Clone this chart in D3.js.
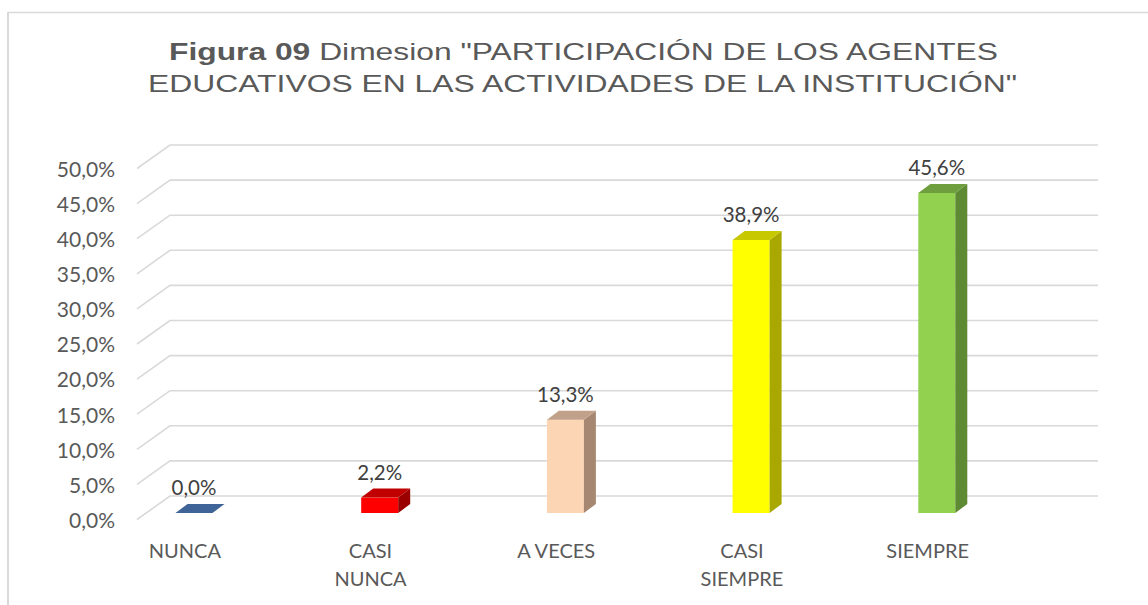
<!DOCTYPE html>
<html>
<head>
<meta charset="utf-8">
<script src="https://cdn.jsdelivr.net/npm/d3@7"></script>
<style>
html,body{margin:0;padding:0;background:#fff;}
svg{display:block;}
</style>
</head>
<body>
<script>
const categories = [["NUNCA"], ["CASI","NUNCA"], ["A VECES"], ["CASI","SIEMPRE"], ["SIEMPRE"]];
const catKeys = ["NUNCA","CASI NUNCA","A VECES","CASI SIEMPRE","SIEMPRE"];
const values = [0.0, 2.2, 13.3, 38.9, 45.6];
const valueLabels = ["0,0%","2,2%","13,3%","38,9%","45,6%"];
const yTicks = [0,5,10,15,20,25,30,35,40,45,50];
const tickLabels = ["0,0%","5,0%","10,0%","15,0%","20,0%","25,0%","30,0%","35,0%","40,0%","45,0%","50,0%"];
const frontColors = ["#44679b","#ff0000","#fcd5b5","#ffff00","#92d050"];
const topColors   = ["#3f6598","#c00000","#c2a18a","#c8c800","#6f9e3e"];
const sideColors  = ["#2f4f7a","#9a0000","#a68872","#a8a800","#5e8a33"];
const titleLine1Bold = "Figura 09";
const titleLine1Rest = " Dimesion \"PARTICIPACIÓN DE LOS AGENTES";
const titleLine2 = "EDUCATIVOS EN LAS ACTIVIDADES DE LA INSTITUCIÓN\"";

const W = 1148, H = 605;
const svg = d3.select("body").append("svg").attr("width", W).attr("height", H);

// frame
svg.append("line").attr("x1",8).attr("x2",W).attr("y1",12.5).attr("y2",12.5).attr("stroke","#d9d9d9").attr("stroke-width",1.5);
svg.append("line").attr("x1",8).attr("x2",8).attr("y1",12).attr("y2",H).attr("stroke","#d9d9d9").attr("stroke-width",2);

// title
const t1 = svg.append("text").attr("x",169).attr("y",60)
  .attr("font-family","Liberation Sans, Arial, sans-serif").attr("font-size",24).attr("fill","#595959")
  .attr("textLength",829).attr("lengthAdjust","spacingAndGlyphs");
t1.append("tspan").attr("font-weight","bold").text(titleLine1Bold);
t1.append("tspan").text(titleLine1Rest);
svg.append("text").attr("x",148).attr("y",92)
  .attr("font-family","Liberation Sans, Arial, sans-serif").attr("font-size",24).attr("fill","#595959")
  .attr("textLength",869).attr("lengthAdjust","spacingAndGlyphs")
  .text(titleLine2);

// scales
const yBack = d3.scaleLinear().domain([0,50]).range([496,145]);
const depthX = 33, depthY = 23.5;
const backLeft = 170, backRight = 1098;
const x = d3.scaleBand().domain(catKeys).range([92, 1020.5]);
const yBar = d3.scaleLinear().domain([0,50]).range([513,162]);
const barOffset = 83.5, barW = 37, bdx = 12, bdy = -9;

// gridlines
const g = svg.append("g");
yTicks.forEach((t,i) => {
  const yb = yBack(t);
  g.append("path")
    .attr("d", `M${backLeft-depthX},${yb+depthY}L${backLeft},${yb}L${backRight},${yb}`)
    .attr("fill","none").attr("stroke","#d9d9d9").attr("stroke-width",1.6);
  svg.append("text").attr("x",115).attr("y",yb+depthY+1).attr("dy","0.35em")
    .attr("text-anchor","end").attr("font-family","Lato, sans-serif").attr("font-size",21)
    .attr("fill","#595959").text(tickLabels[i]);
});

// bars
catKeys.forEach((c,i) => {
  const x0 = x(c) + barOffset, x1 = x0 + barW;
  const yb = yBar(0), yt = yBar(values[i]);
  const bg = svg.append("g");
  if (values[i] > 0) {
    bg.append("rect").attr("x",x0).attr("y",yt).attr("width",barW).attr("height",yb-yt).attr("fill",frontColors[i]);
    bg.append("path").attr("d",`M${x1},${yt}L${x1+bdx},${yt+bdy}L${x1+bdx},${yb+bdy}L${x1},${yb}Z`).attr("fill",sideColors[i]);
  }
  bg.append("path").attr("d",`M${x0},${yt}L${x0+bdx},${yt+bdy}L${x1+bdx},${yt+bdy}L${x1},${yt}Z`).attr("fill",topColors[i]);
  // value label
  svg.append("text").attr("x",x0+barW/2).attr("y",yt+bdy-16).attr("dy","0.35em")
    .attr("text-anchor","middle").attr("font-family","Lato, sans-serif").attr("font-size",20.5)
    .attr("fill","#404040").text(valueLabels[i]);
  // category label
  const lt = svg.append("text").attr("text-anchor","middle").attr("font-family","Lato, sans-serif")
    .attr("font-size",20).attr("fill","#595959");
  categories[i].forEach((line,j) => {
    lt.append("tspan").attr("x", x(c) + x.bandwidth()/2).attr("y", 551 + j*28).attr("dy","0.35em").text(line);
  });
});
</script>
</body>
</html>
